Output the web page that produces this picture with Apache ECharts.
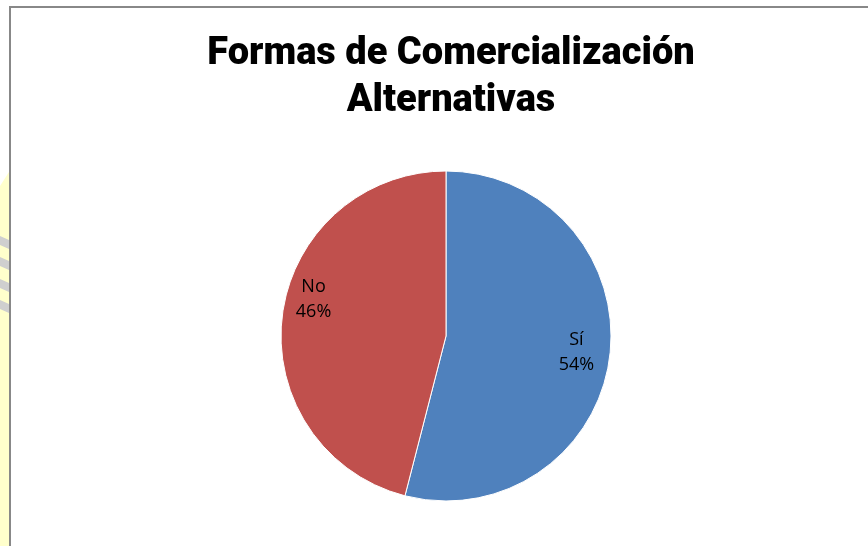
<!DOCTYPE html>
<html>
<head>
<meta charset="utf-8">
<script src="https://cdn.jsdelivr.net/npm/echarts@6/dist/echarts.min.js"></script>
<style>
  html, body { margin: 0; padding: 0; background: #fff; }
  #main { width: 868px; height: 546px; }
</style>
</head>
<body>
<div id="main"></div>
<script>
// datos del grafico
const titleLines = ['Formas de Comercialización', 'Alternativas'];
const categories = ['Sí', 'No'];
const values = [54, 46];
const colors = ['#4F81BD', '#C0504D'];

const chart = echarts.init(document.getElementById('main'));

const pieData = categories.map(function (name, i) {
  return { name: name, value: values[i], itemStyle: { color: colors[i] } };
});

// the "No" label sits a bit higher than the slice middle in the original
const labelData = categories.map(function (name, i) {
  return {
    name: name,
    value: values[i],
    label: { offset: i === 1 ? [0, -20] : [-2, 0] }
  };
});

// little yellow strip with grey arcs on the left edge
const stripes = [236, 257, 279, 300].map(function (y) {
  return {
    type: 'polygon',
    silent: true,
    shape: { points: [[0, y], [9, y + 4], [9, y + 13], [0, y + 9]] },
    style: { fill: '#cfcfcf' }
  };
});

var option = {
  backgroundColor: '#fff',
  animation: false,
  title: {
    text: titleLines.join('\n'),
    left: 446,
    top: 26,
    textAlign: 'center',
    textStyle: {
      fontFamily: 'Roboto',
      fontWeight: 900,
      fontSize: 38,
      lineHeight: 47,
      color: '#000'
    }
  },
  graphic: [
    {
      type: 'polygon',
      silent: true,
      z: -10,
      shape: { points: [[0, 186], [9, 172], [9, 546], [0, 546]] },
      style: { fill: '#FFFFCC' }
    }
  ].concat(stripes).concat([
    {
      type: 'polyline',
      silent: true,
      shape: { points: [[10, 546], [10, 7], [868, 7]] },
      style: { stroke: '#888', lineWidth: 2, fill: null }
    }
  ]),
  series: [
    {
      name: 'Formas',
      type: 'pie',
      center: [446, 336],
      radius: [0, 165],
      startAngle: 90,
      clockwise: true,
      silent: true,
      label: { show: false },
      labelLine: { show: false },
      itemStyle: { borderColor: '#fff', borderWidth: 1 },
      data: pieData
    },
    {
      // transparent ring, only used to place the labels
      name: 'Etiquetas',
      type: 'pie',
      center: [446, 336],
      radius: [96, 165],
      startAngle: 90,
      clockwise: true,
      silent: true,
      itemStyle: { color: 'rgba(0,0,0,0)' },
      label: {
        show: true,
        position: 'inside',
        formatter: '{b}\n{d}%',
        fontFamily: 'Open Sans',
        fontSize: 18,
        lineHeight: 25,
        color: '#000'
      },
      labelLine: { show: false },
      data: labelData
    }
  ]
};

chart.setOption(option);
</script>
</body>
</html>
